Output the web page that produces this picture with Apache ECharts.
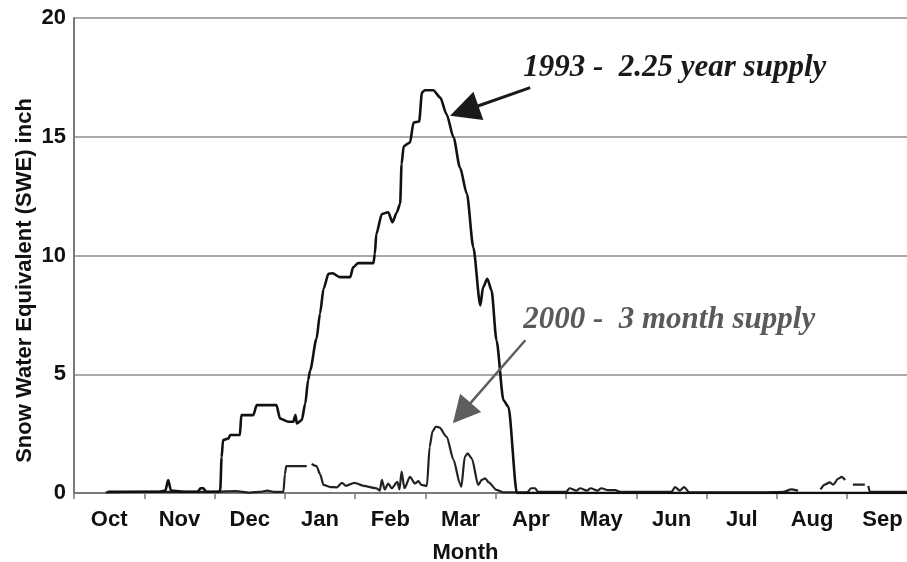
<!DOCTYPE html>
<html>
<head>
<meta charset="utf-8">
<script src="https://cdn.jsdelivr.net/npm/echarts@6/dist/echarts.min.js"></script>
<style>
html,body{margin:0;padding:0;background:#fff;}
#chart{width:907px;height:562px;}
</style>
</head>
<body>
<div id="chart"></div>
<script>
// x values are in months since Oct 1 (water year)
const months = ['Oct','Nov','Dec','Jan','Feb','Mar','Apr','May','Jun','Jul','Aug','Sep'];
const yTicks = [0, 5, 10, 15, 20];

const x1993 = [0.48,1.2,1.3,1.34,1.38,1.6,1.76,1.8,1.84,1.88,2.05,2.08,2.1,2.12,2.2,2.22,2.36,2.38,2.55,2.6,2.88,2.93,3.05,3.12,3.15,3.17,3.24,3.29,3.33,3.36,3.45,3.5,3.55,3.62,3.68,3.78,3.93,3.97,4.04,4.26,4.28,4.3,4.38,4.47,4.53,4.59,4.64,4.66,4.69,4.78,4.83,4.91,4.95,4.99,5.11,5.21,5.3,5.4,5.49,5.59,5.68,5.78,5.82,5.88,5.94,6.01,6.11,6.18,6.3,8.0,10.0,11.85];
const y1993 = [0.05,0.05,0.1,0.55,0.1,0.05,0.05,0.2,0.2,0.05,0.05,0.1,1.5,2.23,2.3,2.44,2.44,3.28,3.28,3.7,3.7,3.14,3.0,3.0,3.28,2.93,3.07,3.77,4.75,5.17,6.5,7.56,8.6,9.23,9.25,9.09,9.09,9.5,9.68,9.68,10.08,10.9,11.75,11.82,11.4,11.8,12.18,13.85,14.6,14.76,15.6,15.64,16.86,16.96,16.96,16.65,15.95,14.97,13.71,12.59,10.35,7.9,8.67,9.02,8.53,6.43,3.9,3.63,0.0,0.0,0.0,0.0];

const x2000 = [0.45,1.0,1.8,2.0,2.3,2.5,2.65,2.75,2.85,2.98,3.0,3.02,3.31,3.34,3.38,3.45,3.5,3.55,3.65,3.74,3.81,3.87,3.99,4.12,4.3,4.35,4.38,4.42,4.47,4.52,4.6,4.63,4.66,4.7,4.78,4.85,4.9,4.94,5.02,5.06,5.1,5.15,5.2,5.3,5.4,5.49,5.51,5.56,5.6,5.66,5.75,5.8,5.85,5.9,6.01,6.1,6.45,6.5,6.56,6.6,7.0,7.05,7.15,7.2,7.3,7.35,7.45,7.5,7.6,7.7,7.77,8.5,8.55,8.62,8.68,8.75,9.8,10.1,10.2,10.3,10.4,10.55,10.58,10.62,10.68,10.75,10.8,10.87,10.92,10.97,11.02,11.08,11.25,11.27,11.3,11.32,11.85];
const y2000 = [0.03,0.05,0.05,0.05,0.08,0.02,0.05,0.1,0.05,0.05,0.8,1.13,1.13,null,1.22,1.13,0.8,0.34,0.25,0.24,0.43,0.3,0.43,0.3,0.2,0.1,0.55,0.15,0.4,0.2,0.47,0.15,0.9,0.2,0.68,0.4,0.5,0.34,0.3,1.95,2.6,2.8,2.75,2.37,1.39,0.4,0.27,1.53,1.67,1.45,0.34,0.55,0.62,0.45,0.13,0.03,0.03,0.2,0.2,0.05,0.05,0.2,0.1,0.2,0.1,0.2,0.1,0.2,0.12,0.12,0.05,0.05,0.25,0.1,0.25,0.03,0.03,0.05,0.15,0.1,null,0.05,null,0.15,0.35,0.45,0.35,0.6,0.68,0.55,null,0.35,0.35,null,0.3,0.05,0.05];

// annotation anchors (data units)
const note1993 = {text: '1993 -  2.25 year supply', at: [6.39, 17.9], tail: [6.49, 17.07], tip: [5.35, 15.88]};
const note2000 = {text: '2000 -  3 month supply', at: [6.39, 7.3], tail: [6.42, 6.43], tip: [5.39, 2.94]};

const toPairs = (xs, ys) => xs.map((x, i) => [x, ys[i] === null ? '-' : ys[i]]);

const axisFont = {fontFamily: 'Liberation Sans, Arial, sans-serif', fontWeight: 'bold', fontSize: 22, color: '#111'};

const chart = echarts.init(document.getElementById('chart'), null, {renderer: 'canvas'});
const option = {
  animation: false,
  backgroundColor: '#fff',
  grid: {left: 74, right: 0, top: 18, bottom: 69, containLabel: false, outerBoundsMode: 'none'},
  xAxis: {
    type: 'value', min: 0, max: 11.85,
    axisLine: {show: true, lineStyle: {color: '#7a7a7a', width: 2}},
    axisTick: {show: true, length: 6, lineStyle: {color: '#7a7a7a', width: 1.5}, customValues: months.map((m, i) => i)},
    axisLabel: Object.assign({margin: 16, customValues: months.map((m, i) => i + 0.5),
      formatter: v => months[Math.floor(v)]}, axisFont),
    splitLine: {show: false},
    name: 'Month', nameLocation: 'middle', nameGap: 49, nameMoveOverlap: false,
    nameTextStyle: Object.assign({padding: [0, 50, 0, 0]}, axisFont)
  },
  yAxis: {
    type: 'value', min: 0, max: 20, interval: 5,
    axisLine: {show: true, lineStyle: {color: '#7a7a7a', width: 2}},
    axisTick: {show: false},
    axisLabel: Object.assign({margin: 8, formatter: v => yTicks.includes(v) ? String(v) : ''}, axisFont),
    splitLine: {show: true, lineStyle: {color: '#8c8c8c', width: 1.5}},
    name: 'Snow Water Equivalent (SWE) inch', nameLocation: 'middle', nameGap: 38, nameMoveOverlap: false,
    nameTextStyle: Object.assign({padding: [0, 50, 0, 0]}, axisFont)
  },
  series: [
    {name: '1993', type: 'line', data: toPairs(x1993, y1993), showSymbol: false, smooth: 0.25, smoothMonotone: 'x',
      lineStyle: {color: '#111', width: 2.6}, z: 3},
    {name: '2000', type: 'line', data: toPairs(x2000, y2000), showSymbol: false, smooth: 0.25, smoothMonotone: 'x',
      connectNulls: false, lineStyle: {color: '#222', width: 2.2}, z: 2}
  ]
};
chart.setOption(option);

function arrow(note, color, lw, headLen, headHalf) {
  const t = chart.convertToPixel({gridIndex: 0}, note.tail);
  const p = chart.convertToPixel({gridIndex: 0}, note.tip);
  const dx = p[0] - t[0], dy = p[1] - t[1];
  const L = Math.sqrt(dx * dx + dy * dy);
  const ux = dx / L, uy = dy / L;
  const bx = p[0] - ux * headLen, by = p[1] - uy * headLen;
  const nx = -uy, ny = ux;
  return [
    {type: 'line', shape: {x1: t[0], y1: t[1], x2: bx + ux * 2, y2: by + uy * 2}, style: {stroke: color, lineWidth: lw}, z: 10},
    {type: 'polygon', shape: {points: [[p[0], p[1]], [bx + nx * headHalf, by + ny * headHalf], [bx - nx * headHalf, by - ny * headHalf]]},
      style: {fill: color}, z: 10}
  ];
}
function label(note, color) {
  const a = chart.convertToPixel({gridIndex: 0}, note.at);
  return {type: 'text', x: a[0], y: a[1], z: 10,
    style: {text: note.text, fill: color, font: 'italic bold 31px "Liberation Serif", "Times New Roman", serif', textVerticalAlign: 'middle', textAlign: 'left'}};
}
chart.setOption({graphic: {elements: [
  ...arrow(note1993, '#1a1a1a', 3, 30, 15),
  ...arrow(note2000, '#5e5e5e', 2.5, 27, 14),
  label(note1993, '#1a1a1a'),
  label(note2000, '#5a5a5a')
]}});
</script>
</body>
</html>
